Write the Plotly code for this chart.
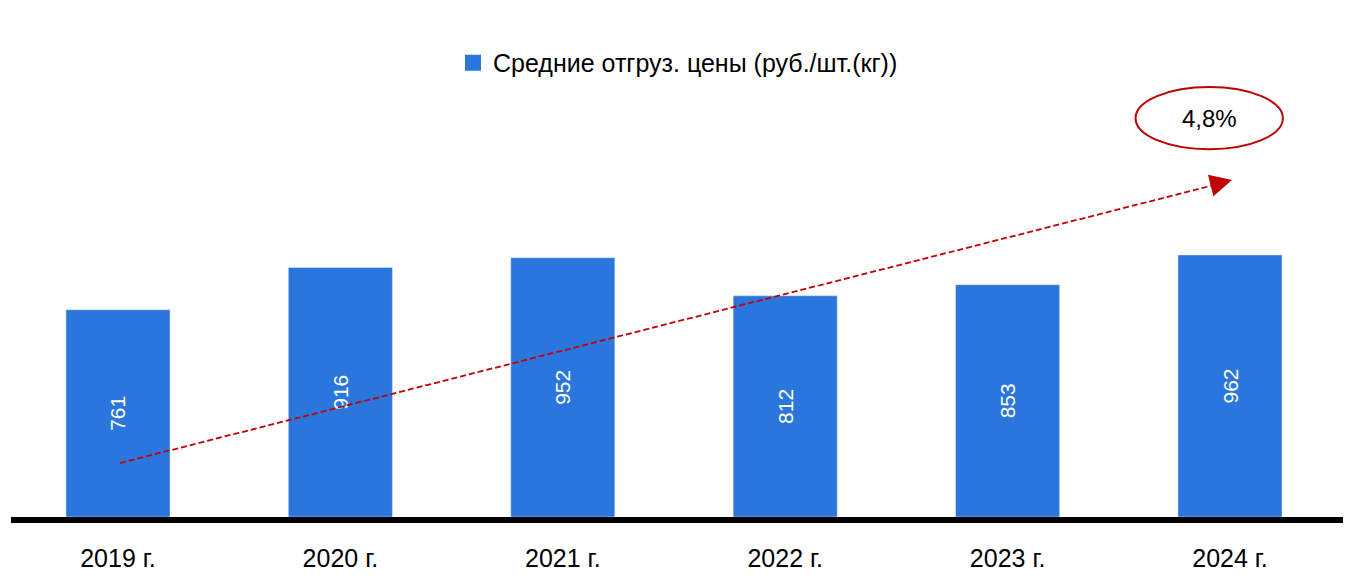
import plotly.graph_objects as go

categories = ["2019 г.", "2020 г.", "2021 г.", "2022 г.", "2023 г.", "2024 г."]
values = [761, 916, 952, 812, 853, 962]
series_name = "Средние отгруз. цены (руб./шт.(кг))"
growth_label = "4,8%"
trend_start = 198
trend_end = 1237

FONT = "Liberation Sans, Arial, sans-serif"
BAR = "#2A76DD"
RED = "#C00000"

xs = list(range(len(categories)))

fig = go.Figure()
fig.add_trace(go.Bar(
    x=xs, y=values, name=series_name, marker_color=BAR, width=0.468,
    text=[str(v) for v in values], textposition="inside", textangle=-90,
    insidetextanchor="middle", textfont=dict(color="white", size=21, family=FONT),
    showlegend=False,
))
# legend entry with a larger square symbol
fig.add_trace(go.Scatter(
    x=[None], y=[None], mode="markers", name=series_name,
    marker=dict(symbol="square", size=16, color=BAR), showlegend=True,
))
fig.add_trace(go.Scatter(
    x=[xs[0] + 0.009, xs[-1] - 0.06], y=[trend_start, trend_end - 16],
    mode="lines", line=dict(color=RED, width=1.8, dash="6px,3px"),
    showlegend=False, hoverinfo="skip",
))
fig.add_annotation(
    x=xs[-1] + 0.009, y=trend_end, xref="x", yref="y",
    ax=-16, ay=4.1, showarrow=True, arrowhead=2, arrowsize=2.2, arrowwidth=2,
    arrowcolor=RED, text="", standoff=0,
)
fig.add_shape(type="circle", xref="paper", yref="paper",
              x0=0.843, x1=0.9535, y0=0.740, y1=0.865,
              line=dict(color=RED, width=2), fillcolor="white")
fig.add_annotation(x=(0.843 + 0.9535) / 2, y=(0.740 + 0.865) / 2, xref="paper", yref="paper",
                   xanchor="center", yanchor="middle",
                   text=growth_label, showarrow=False,
                   font=dict(size=24, color="black", family=FONT))

fig.update_layout(
    width=1343, height=579,
    margin=dict(l=3, r=6, t=12, b=70),
    plot_bgcolor="white", paper_bgcolor="white",
    font=dict(family=FONT, size=24, color="black"),
    showlegend=True,
    legend=dict(orientation="h", x=0.5, xanchor="center", y=0.9135, yanchor="middle",
                font=dict(size=25, family=FONT)),
    xaxis=dict(tickmode="array", tickvals=xs, ticktext=categories, range=[-0.481, 5.517],
               showline=True, linecolor="black", linewidth=6, showgrid=False,
               ticks="outside", ticklen=14, tickcolor="rgba(0,0,0,0)",
               tickfont=dict(size=25, family=FONT), zeroline=False),
    yaxis=dict(range=[0, 1824.5], visible=False, showgrid=False, zeroline=False),
)

fig.write_html("out.html")
